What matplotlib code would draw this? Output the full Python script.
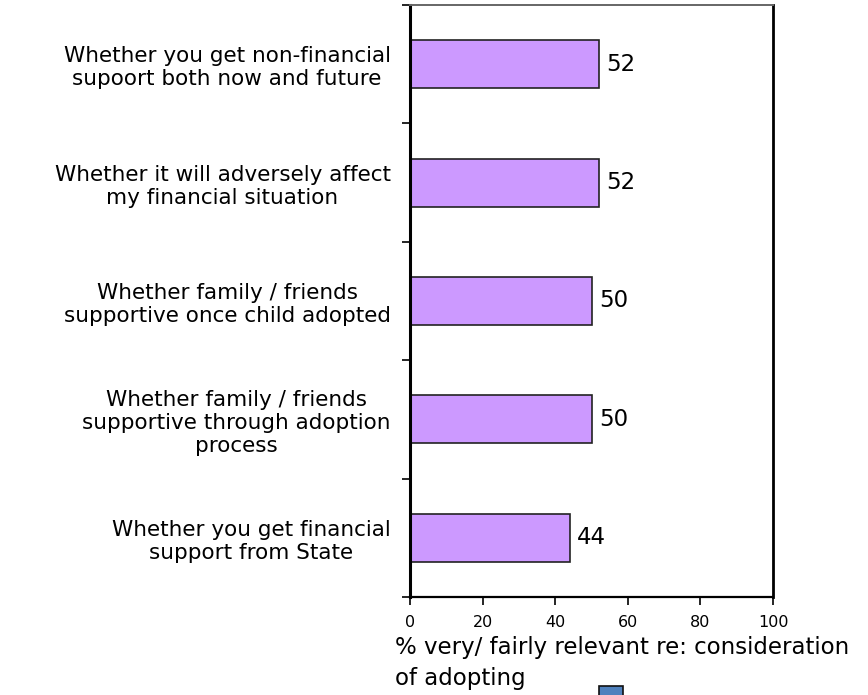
import matplotlib
matplotlib.use("Agg")
import matplotlib.pyplot as plt
from matplotlib.patches import Rectangle

plt.rcParams['font.family'] = ['DejaVu Sans']

categories = [
    "Whether you get non-financial\nsupoort both now and future",
    "Whether it will adversely affect\nmy financial situation",
    "Whether family / friends\nsupportive once child adopted",
    "Whether family / friends\nsupportive through adoption\nprocess",
    "Whether you get financial\nsupport from State",
]
values = [52, 52, 50, 50, 44]
x_ticks = [0, 20, 40, 60, 80, 100]
x_label = "% very/ fairly relevant re: consideration\nof adopting"

fig = plt.figure(figsize=(8.68, 6.95), dpi=100)
ax = fig.add_axes([410 / 868, 1 - 597 / 695, 363 / 868, 592 / 695])

pos = list(range(len(categories)))
ax.barh(pos, values, height=0.405, color='#CC99FF', edgecolor='#222222', linewidth=1.2)
for p, v in zip(pos, values):
    ax.text(v + 2, p, str(v), va='center', ha='left', fontsize=16.5)

ax.set_xlim(0, 100)
ax.set_ylim(len(categories) - 0.5, -0.5)
ax.set_xticks(x_ticks)
ax.set_xticklabels([str(t) for t in x_ticks], fontsize=11.5)
ax.tick_params(axis='x', direction='out', length=6, width=1.2, pad=7)

# boundary ticks on the left, labels centred on each bar
ax.set_yticks([i - 0.5 for i in range(len(categories) + 1)])
ax.set_yticklabels([])
ax.tick_params(axis='y', which='major', direction='out', length=6, width=1.2)
ax.set_yticks(pos, minor=True)
ax.set_yticklabels(categories, minor=True, fontsize=15.5, multialignment='center')
ax.tick_params(axis='y', which='minor', length=0, pad=14)

ax.spines['left'].set_linewidth(2.2)
ax.spines['bottom'].set_linewidth(1.6)
ax.spines['right'].set_linewidth(2)
ax.spines['top'].set_color('#666666')
ax.spines['top'].set_linewidth(1.4)

fig.text(395 / 868, 1 - 636 / 695, x_label, ha='left', va='top', fontsize=16.5,
         linespacing=1.42)

# legend swatch sitting at the lower edge
fig.patches.append(Rectangle((599 / 868, 1 - 700 / 695), 24 / 868, 14 / 695,
                             transform=fig.transFigure, facecolor='#4F81BD',
                             edgecolor='#111111', linewidth=1.2))

fig.savefig('out.png', dpi=100)
